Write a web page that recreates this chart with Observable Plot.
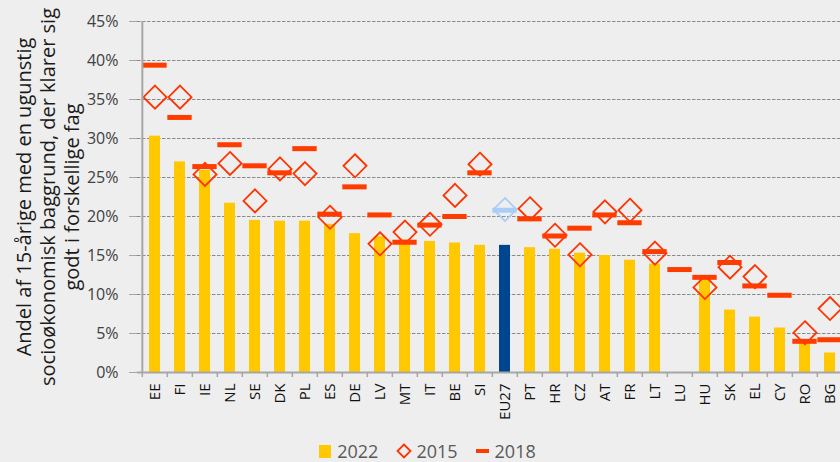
<!DOCTYPE html>
<html>
<head>
<meta charset="utf-8">
<script src="https://cdn.jsdelivr.net/npm/d3@7"></script>
<script src="https://cdn.jsdelivr.net/npm/@observablehq/plot@0.6"></script>
<style>
  html, body { margin: 0; padding: 0; background: #eeeeee; }
  body { width: 840px; height: 462px; overflow: hidden; font-family: "Open Sans", sans-serif; }
  #chart { height: 432px; }
  #legend { display: flex; justify-content: center; align-items: center; box-sizing: border-box; height: 29px; padding-top: 9px; padding-left: 15px; font-size: 18px; line-height: 20px; color: #595959; }
  #legend .item { display: flex; align-items: center; margin: 0 9px; height: 20px; }
  #legend .sq { width: 12px; height: 13px; background: #ffc800; margin-right: 6px; }
  #legend .dash { width: 13px; height: 4px; background: #ff3c00; margin-right: 6px; }
  #legend svg { margin-right: 4px; }
</style>
</head>
<body>
<div id="chart"></div>
<div id="legend">
  <div class="item"><span class="sq"></span>2022</div>
  <div class="item"><svg width="16" height="16" viewBox="-8 -8 16 16"><path d="M0,-6.5L6.5,0L0,6.5L-6.5,0Z" fill="none" stroke="#ff3300" stroke-width="1.8"/></svg>2015</div>
  <div class="item"><span class="dash"></span>2018</div>
</div>
<script>
const countries = ["EE","FI","IE","NL","SE","DK","PL","ES","DE","LV","MT","IT","BE","SI","EU27","PT","HR","CZ","AT","FR","LT","LU","HU","SK","EL","CY","RO","BG"];
const v2022 = [30.3, 27.0, 25.9, 21.7, 19.5, 19.4, 19.4, 19.0, 17.8, 17.4, 17.0, 16.8, 16.6, 16.3, 16.3, 16.0, 15.8, 15.3, 15.0, 14.4, 13.9, null, 12.0, 8.0, 7.1, 5.7, 3.7, 2.5];
const v2015 = [35.3, 35.3, 25.4, 26.8, 22.0, 26.1, 25.5, 19.9, 26.5, 16.5, 18.0, 19.0, 22.7, 26.7, 20.9, 21.0, 17.6, 15.1, 20.6, 20.8, 15.3, null, 10.9, 13.5, 12.3, null, 5.1, 8.2];
const v2018 = [39.4, 32.7, 26.4, 29.2, 26.5, 25.6, 28.7, 20.3, 23.8, 20.2, 16.7, 18.9, 20.0, 25.6, 20.8, 19.7, 17.5, 18.5, 20.2, 19.2, 15.5, 13.2, 12.2, 14.1, 11.1, 9.9, 4.0, 4.2];
const yTicks = [0, 5, 10, 15, 20, 25, 30, 35, 40, 45];
const yTitle = "Andel af 15-årige med en ugunstig\nsocioøkonomisk baggrund, der klarer sig\ngodt i forskellige fag";

const data = countries.map((c, i) => ({country: c, v2022: v2022[i], v2015: v2015[i], v2018: v2018[i]}));
const isEU = d => d.country === "EU27";

const step = (846.6 - 137) / countries.length;
const bw = step * 0.42;

const chart = Plot.plot({
  width: 840,
  height: 432,
  marginLeft: 137,
  marginRight: 0,
  marginTop: 21,
  marginBottom: 60,
  style: {background: "#eeeeee", fontFamily: "Open Sans, sans-serif"},
  x: {domain: countries, range: [137, 846.6], paddingInner: 0.58, paddingOuter: 0.29},
  y: {domain: [0, 45], ticks: yTicks},
  color: {type: "identity"},
  marks: [
    Plot.ruleY(yTicks.filter(t => t > 0), {stroke: "#8a8a8a", strokeWidth: 1, strokeDasharray: "3.5,1.5"}),
    Plot.barY(data.filter(d => d.v2022 != null), {x: "country", y: "v2022", fill: d => isEU(d) ? "#00468f" : "#ffc800"}),
    Plot.dot(data.filter(d => d.v2015 != null), {x: "country", y: "v2015", symbol: "diamond2", r: 10.4, fill: "none", stroke: d => isEU(d) ? "#aacdf8" : "#ff3300", strokeWidth: 1.8}),
    Plot.tickY(data, {x: "country", y: "v2018", stroke: d => isEU(d) ? "#aacdf8" : "#ff3c00", strokeWidth: 5, insetLeft: -(24 - bw) / 2, insetRight: -(24 - bw) / 2}),
    Plot.ruleY([0], {stroke: "#a6a6a6", strokeWidth: 2}),
    Plot.ruleX(countries, {x: d => d, y1: 0, y2: -0.65, dx: -step / 2, stroke: "#a6a6a6", strokeWidth: 1.5}),
    Plot.ruleX([countries[0]], {x: d => d, y1: 0, y2: 45, dx: -step / 2, stroke: "#a6a6a6", strokeWidth: 2}),
    Plot.axisY({ticks: yTicks, tickFormat: d => d + "%", tickSize: 8, tickPadding: 11, fontSize: 16, color: "#404040", stroke: "#a6a6a6", label: null}),
    Plot.axisX({tickSize: 0, tickPadding: 11, tickRotate: -90, fontSize: 15, color: "#111", label: null}),
    Plot.text([yTitle], {frameAnchor: "left", rotate: -90, dx: -90, lineAnchor: "middle", lineHeight: 1.2, fontSize: 20, fill: "#1a1a1a", textAnchor: "middle"})
  ]
});
document.getElementById("chart").appendChild(chart);
</script>
</body>
</html>
